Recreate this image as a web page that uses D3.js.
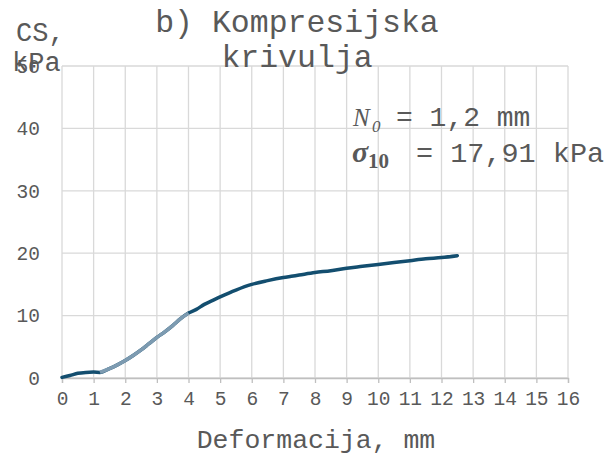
<!DOCTYPE html>
<html>
<head>
<meta charset="utf-8">
<script src="https://cdn.jsdelivr.net/npm/d3@7"></script>
<style>
  body { margin: 0; background: #fff; }
  text { fill: #595959; font-family: "Liberation Mono", "DejaVu Sans Mono", monospace; }
</style>
</head>
<body>
<div id="chart"></div>
<script>
'use strict';

// deformation (mm) and CS (kPa)
var deformation = [0, 0.25, 0.5, 0.75, 1.0, 1.2, 1.5, 1.75, 2.0, 2.25, 2.5, 2.75, 3.0, 3.25, 3.5, 3.75, 4.0,
    4.25, 4.5, 4.75, 5.0, 5.5, 6.0, 6.5, 7.0, 7.25, 7.5, 8.0, 8.5, 9.0, 9.5, 10.0, 10.5, 11.0, 11.5, 12.0, 12.5];
var stress = [0.1, 0.4, 0.75, 0.9, 0.95, 0.9, 1.5, 2.1, 2.8, 3.6, 4.5, 5.5, 6.5, 7.4, 8.4, 9.5, 10.4,
    11.0, 11.8, 12.4, 13.0, 14.1, 15.0, 15.6, 16.1, 16.3, 16.5, 16.9, 17.2, 17.6, 17.9, 18.2, 18.5, 18.8, 19.1, 19.3, 19.6];
// part of the curve drawn lighter
var highlightRange = [1.2, 4.0];

var xTicks = d3.range(0, 17, 1);
var yTicks = [0, 10, 20, 30, 40, 50];

var width = 611, height = 455;
var margin = {left: 62, right: 43, top: 66, bottom: 77};

var svg = d3.select("#chart").append("svg")
    .attr("width", width)
    .attr("height", height);

var x = d3.scaleLinear().domain([0, 16]).range([margin.left, width - margin.right]);
var y = d3.scaleLinear().domain([0, 50]).range([height - margin.bottom, margin.top]);

// grid
svg.append("g").selectAll("line.v")
    .data(xTicks).enter().append("line")
    .attr("x1", function (d) { return x(d); })
    .attr("x2", function (d) { return x(d); })
    .attr("y1", y(0)).attr("y2", y(50))
    .attr("stroke", "#d9d9d9").attr("stroke-width", 1.3);

svg.append("g").selectAll("line.h")
    .data(yTicks).enter().append("line")
    .attr("x1", x(0)).attr("x2", x(16))
    .attr("y1", function (d) { return y(d); })
    .attr("y2", function (d) { return y(d); })
    .attr("stroke", "#d9d9d9").attr("stroke-width", 1.3);

// x axis
var xAxis = svg.append("g")
    .attr("transform", "translate(0," + y(0) + ")")
    .call(d3.axisBottom(x).tickValues(xTicks).tickSize(5).tickPadding(8).tickFormat(d3.format("d")));
xAxis.select(".domain").attr("stroke", "#bfbfbf").attr("stroke-width", 1.3);
xAxis.selectAll(".tick line").attr("stroke", "#bfbfbf").attr("stroke-width", 1.3);
xAxis.selectAll(".tick text")
    .style("font-family", "Liberation Mono").style("font-size", "19.5px").attr("fill", "#666");

// y axis
var yAxis = svg.append("g")
    .attr("transform", "translate(" + x(0) + ",0)")
    .call(d3.axisLeft(y).tickValues(yTicks).tickSize(0).tickPadding(22));
yAxis.select(".domain").remove();
yAxis.selectAll(".tick text")
    .style("font-family", "Liberation Mono").style("font-size", "19.5px").attr("fill", "#666");

// line
var line = d3.line()
    .x(function (d) { return x(d[0]); })
    .y(function (d) { return y(d[1]); })
    .curve(d3.curveMonotoneX);

var pts = deformation.map(function (d, i) { return [d, stress[i]]; });
var lightPts = pts.filter(function (p) { return p[0] >= highlightRange[0] && p[0] <= highlightRange[1]; });

svg.append("path").datum(pts)
    .attr("d", line)
    .attr("fill", "none")
    .attr("stroke", "#134e6f")
    .attr("stroke-width", 3.5)
    .attr("stroke-linecap", "round");

svg.append("path").datum(lightPts)
    .attr("d", line)
    .attr("fill", "none")
    .attr("stroke", "#7d9bb1")
    .attr("stroke-width", 3.5);

// title
svg.append("text").attr("x", 297).attr("y", 32)
    .attr("text-anchor", "middle").style("font-size", "31.5px").attr("fill", "#666")
    .text("b) Kompresijska");
svg.append("text").attr("x", 297).attr("y", 67)
    .attr("text-anchor", "middle").style("font-size", "31.5px").attr("fill", "#666")
    .text("krivulja");

// y axis title
svg.append("text").attr("x", 16).attr("y", 41).style("font-size", "27px").attr("fill", "#666").text("CS,");
svg.append("text").attr("x", 12).attr("y", 71).style("font-size", "27px").attr("fill", "#666").text("kPa");

// x axis title
svg.append("text").attr("x", 316).attr("y", 448)
    .attr("text-anchor", "middle").style("font-size", "26.5px").attr("fill", "#666")
    .text("Deformacija, mm");

// annotation
svg.append("text").attr("x", 353).attr("y", 126)
    .style("font-family", "Liberation Serif").style("font-style", "italic")
    .style("font-size", "25px").attr("fill", "#000").text("N");
svg.append("text").attr("x", 372).attr("y", 132)
    .style("font-family", "Liberation Serif").style("font-style", "italic")
    .style("font-size", "17px").attr("fill", "#000").text("0");
svg.append("text").attr("x", 396).attr("y", 126)
    .style("font-size", "28px").attr("fill", "#222").text("= 1,2 mm");

svg.append("text").attr("x", 352).attr("y", 162)
    .style("font-family", "Liberation Serif").style("font-style", "italic").style("font-weight", "bold")
    .style("font-size", "30px").attr("fill", "#000").text("σ");
svg.append("text").attr("x", 368).attr("y", 168)
    .style("font-family", "Liberation Serif").style("font-weight", "bold")
    .style("font-size", "21px").attr("fill", "#000").text("10");
svg.append("text").attr("x", 416).attr("y", 162)
    .style("font-size", "28.5px").attr("fill", "#222").text("= 17,91 kPa");
</script>
</body>
</html>
